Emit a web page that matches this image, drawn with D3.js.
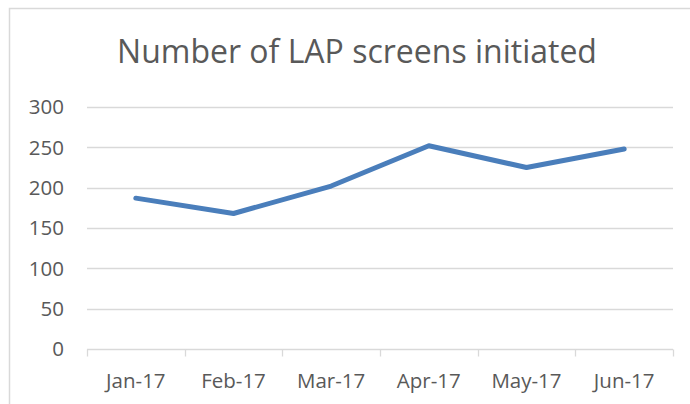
<!DOCTYPE html>
<html>
<head>
<meta charset="utf-8">
<script src="https://cdn.jsdelivr.net/npm/d3@7"></script>
<style>
  body { margin: 0; background: #fff; }
  text { font-family: "Open Sans", sans-serif; fill: #595959; }
</style>
</head>
<body>
<div id="chart"></div>
<script>
// chart data
var months = ['Jan-17', 'Feb-17', 'Mar-17', 'Apr-17', 'May-17', 'Jun-17'];
var screens = [187, 168, 202, 252, 225, 248];
var yTicks = [0, 50, 100, 150, 200, 250, 300];
var title = 'Number of LAP screens initiated';

var W = 690, H = 404;
var margin = { top: 107, right: 17, bottom: 55, left: 87 },
    width = W - margin.left - margin.right,
    height = H - margin.top - margin.bottom;

var svg = d3.select('#chart').append('svg')
  .attr('width', W)
  .attr('height', H);

// chart border (right/bottom run off the picture)
svg.append('rect')
  .attr('x', 9.5)
  .attr('y', 8.5)
  .attr('width', 700)
  .attr('height', 420)
  .style('fill', 'none')
  .style('stroke', '#d9d9d9')
  .style('stroke-width', 1.5);

svg.append('text')
  .attr('x', 357)
  .attr('y', 63)
  .attr('text-anchor', 'middle')
  .style('font-size', '32px')
  .text(title);

var g = svg.append('g')
  .attr('transform', 'translate(' + margin.left + ',' + margin.top + ')');

var x = d3.scaleBand().domain(months).range([0, width]);
var y = d3.scaleLinear().domain([0, 300]).range([height, 0]);

// gridlines
g.selectAll('.grid')
  .data(yTicks.slice(1))
  .enter().append('line')
    .attr('x1', 0)
    .attr('x2', width)
    .attr('y1', function (d) { return Math.round(y(d)) + 0.5; })
    .attr('y2', function (d) { return Math.round(y(d)) + 0.5; })
    .style('stroke', '#d9d9d9')
    .style('stroke-width', 1.3);

// y labels
g.selectAll('.ylab')
  .data(yTicks)
  .enter().append('text')
    .attr('x', -23)
    .attr('y', function (d) { return y(d); })
    .attr('dy', '0.35em')
    .attr('text-anchor', 'end')
    .style('font-size', '20.5px')
    .text(function (d) { return d; });

// x axis line + ticks
var xAxis = g.append('g')
  .attr('transform', 'translate(0,' + (Math.round(height) + 0.5) + ')');
xAxis.append('line')
  .attr('x1', 0).attr('x2', width)
  .style('stroke', '#d9d9d9').style('stroke-width', 1.3);
xAxis.selectAll('.tick')
  .data(months.concat(['end']))
  .enter().append('line')
    .attr('x1', function (d, i) { return Math.round(i * x.step()) + 0.5; })
    .attr('x2', function (d, i) { return Math.round(i * x.step()) + 0.5; })
    .attr('y1', 0).attr('y2', 7)
    .style('stroke', '#d9d9d9').style('stroke-width', 1.3);
xAxis.selectAll('.xlab')
  .data(months)
  .enter().append('text')
    .attr('x', function (d) { return x(d) + x.bandwidth() / 2; })
    .attr('y', 38)
    .attr('text-anchor', 'middle')
    .style('font-size', '20.5px')
    .text(function (d) { return d; });

// the line
var line = d3.line()
  .x(function (d, i) { return x(months[i]) + x.bandwidth() / 2; })
  .y(function (d) { return y(d); });

g.append('path')
  .datum(screens)
  .attr('d', line)
  .style('fill', 'none')
  .style('stroke', '#4a7ebb')
  .style('stroke-width', 5)
  .style('stroke-linecap', 'round')
  .style('stroke-linejoin', 'round');
</script>
</body>
</html>
